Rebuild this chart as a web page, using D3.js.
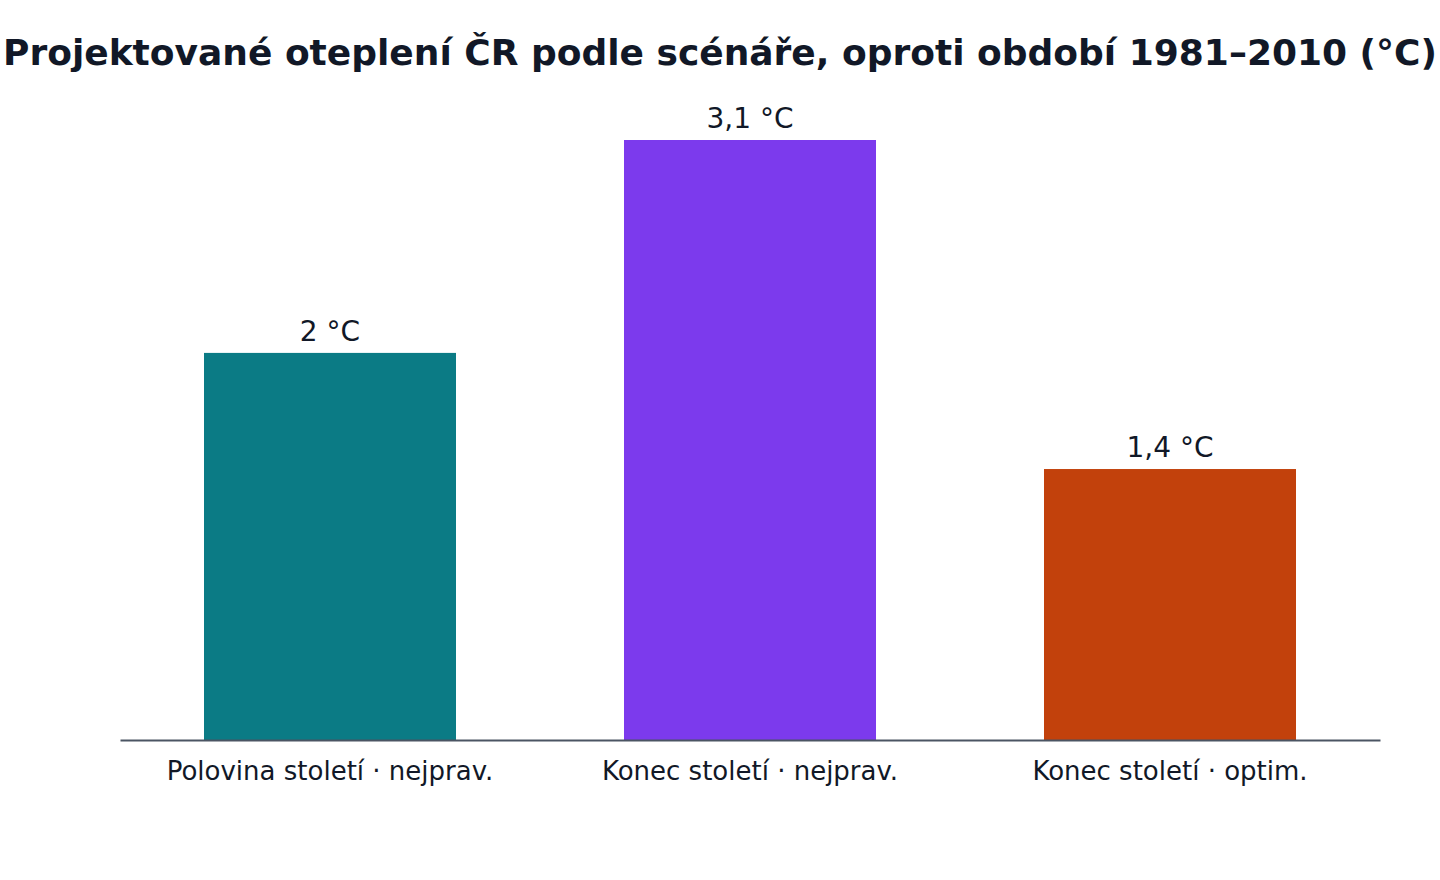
<!DOCTYPE html>
<html>
<head>
<meta charset="utf-8">
<script src="https://cdn.jsdelivr.net/npm/d3@7"></script>
<style>
  html, body { margin: 0; padding: 0; background: #fff; }
  svg { display: block; font-family: "DejaVu Sans", sans-serif; }
</style>
</head>
<body>
<div id="chart"></div>
<script>
// data
const categories = ["Polovina století · nejprav.", "Konec století · nejprav.", "Konec století · optim."];
const values = [2, 3.1, 1.4];
const valueLabels = ["2 °C", "3,1 °C", "1,4 °C"];
const barColors = ["#0b7b85", "#7c3aed", "#c2410c"];
const title = "Projektované oteplení ČR podle scénáře, oproti období 1981–2010 (°C)";

const width = 1440, height = 880;
const margin = { top: 140, right: 60, bottom: 140, left: 120 };

const svg = d3.select("#chart").append("svg")
  .attr("width", width)
  .attr("height", height);

// title
svg.append("text")
  .attr("x", width / 2)
  .attr("y", 65)
  .attr("text-anchor", "middle")
  .style("font-size", "36px")
  .style("font-weight", "bold")
  .style("fill", "#111827")
  .text(title);

const x = d3.scaleBand()
  .domain(categories)
  .range([margin.left, width - margin.right])
  .paddingInner(0.4)
  .paddingOuter(0.2);

const y = d3.scaleLinear()
  .domain([0, d3.max(values)])
  .range([height - margin.bottom, margin.top]);

const rows = categories.map((c, i) => ({ cat: c, v: values[i], label: valueLabels[i], color: barColors[i] }));

// bars
svg.append("g")
  .selectAll("rect")
  .data(rows)
  .join("rect")
  .attr("x", d => x(d.cat))
  .attr("y", d => y(d.v))
  .attr("width", x.bandwidth())
  .attr("height", d => y(0) - y(d.v))
  .attr("fill", d => d.color);

// value labels
svg.append("g")
  .selectAll("text")
  .data(rows)
  .join("text")
  .attr("x", d => x(d.cat) + x.bandwidth() / 2)
  .attr("y", d => y(d.v) - 12)
  .attr("text-anchor", "middle")
  .style("font-size", "28px")
  .style("fill", "#111827")
  .text(d => d.label);

// x axis
const xAxis = svg.append("g")
  .attr("transform", `translate(0,${y(0)})`)
  .call(d3.axisBottom(x).tickSize(0).tickPadding(22));
xAxis.select(".domain")
  .attr("stroke", "#4b5563")
  .attr("stroke-width", 2);
xAxis.selectAll("text")
  .style("font-family", "DejaVu Sans, sans-serif")
  .style("font-size", "26px")
  .style("fill", "#111827");
</script>
</body>
</html>
